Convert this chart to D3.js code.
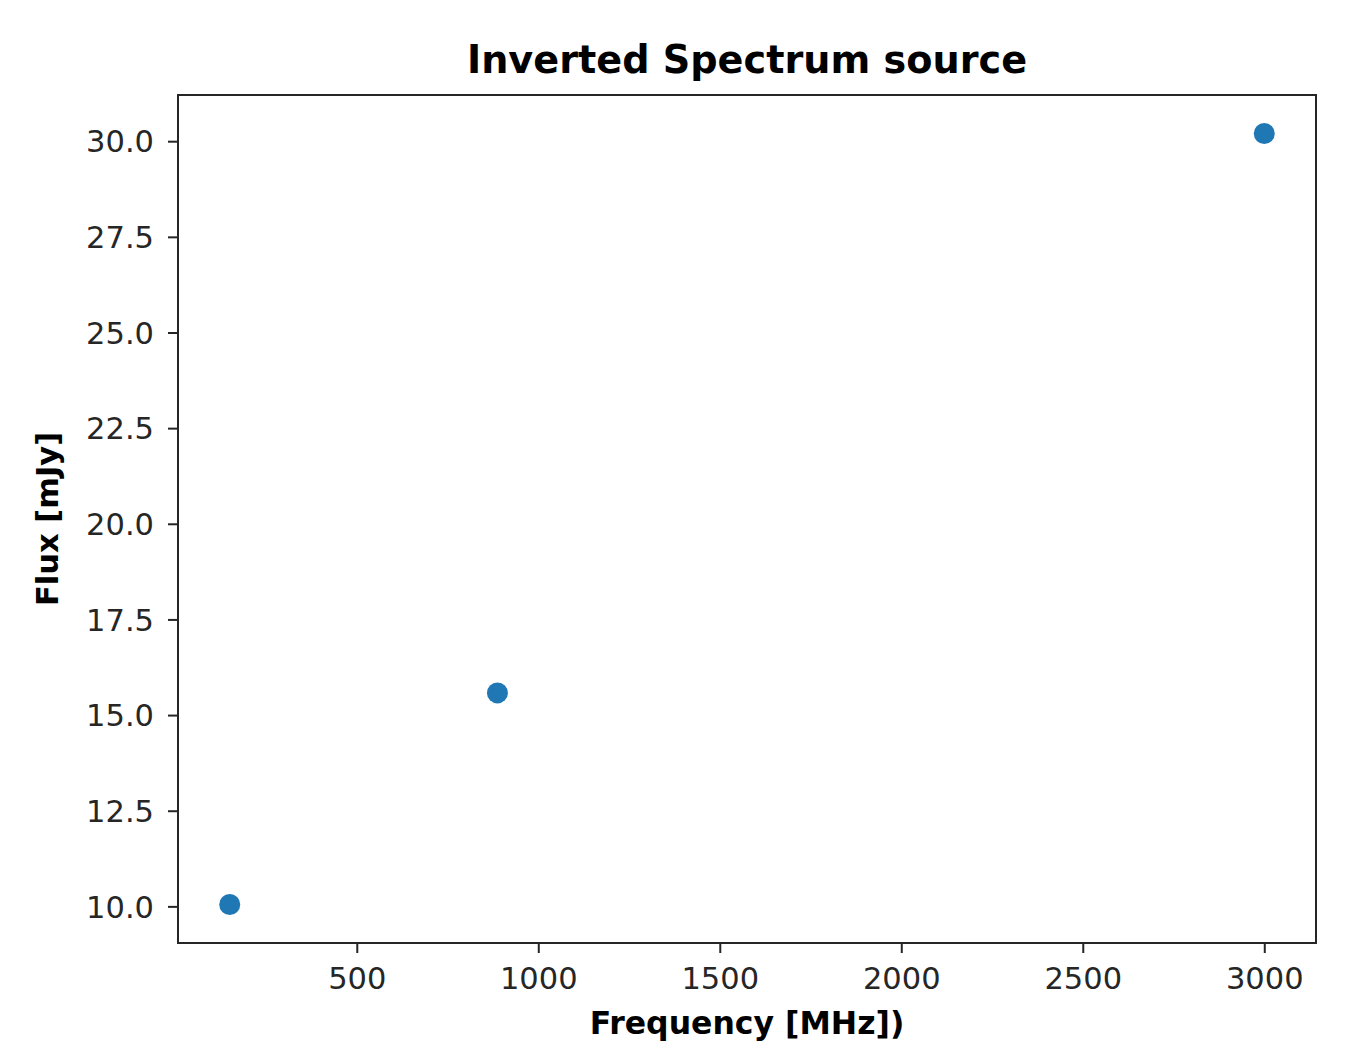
<!DOCTYPE html>
<html>
<head>
<meta charset="utf-8">
<script src="https://cdn.jsdelivr.net/npm/d3@7/dist/d3.min.js"></script>
<style>
  html, body { margin: 0; padding: 0; background: #fff; }
  svg { display: block; font-family: "DejaVu Sans", sans-serif; }
</style>
</head>
<body>
<svg id="chart" width="1360" height="1043"></svg>
<script>
const frequencies = [150, 887.5, 3000];
const fluxes = [10.05, 15.58, 30.2];
const xTicks = [500, 1000, 1500, 2000, 2500, 3000];
const yTicks = [10.0, 12.5, 15.0, 17.5, 20.0, 22.5, 25.0, 27.5, 30.0];
const titleText = "Inverted Spectrum source";
const xLabelText = "Frequency [MHz])";
const yLabelText = "Flux [mJy]";

(function () {
const svg = d3.select("#chart");
const mLeft = 178, mRight = 1316, mTop = 95, mBottom = 943;

function padded(vals) {
  const [a, b] = d3.extent(vals);
  const m = (b - a) * 0.05;
  return [a - m, b + m];
}

const x = d3.scaleLinear().domain(padded(frequencies)).range([mLeft, mRight]);
const y = d3.scaleLinear().domain(padded(fluxes)).range([mBottom, mTop]);

const textColor = "#262626";

// points
svg.append("g").selectAll("circle")
  .data(frequencies.map((f, i) => ({ f, v: fluxes[i] })))
  .join("circle")
  .attr("cx", d => x(d.f))
  .attr("cy", d => y(d.v))
  .attr("r", 10.5)
  .attr("fill", "#1f77b4");

// axes
const xAxis = svg.append("g")
  .attr("transform", `translate(0,${mBottom})`)
  .call(d3.axisBottom(x).tickValues(xTicks).tickFormat(d3.format("d")).tickSize(10).tickPadding(9).tickSizeOuter(0));
const yAxis = svg.append("g")
  .attr("transform", `translate(${mLeft},0)`)
  .call(d3.axisLeft(y).tickValues(yTicks).tickFormat(d3.format(".1f")).tickSize(10).tickPadding(14).tickSizeOuter(0));

[xAxis, yAxis].forEach(g => {
  g.select(".domain").remove();
  g.selectAll(".tick line").attr("stroke", textColor).attr("stroke-width", 2);
  g.selectAll(".tick text").attr("fill", textColor).style("font-size", "30.5px").style("font-family", "DejaVu Sans, sans-serif");
});
xAxis.selectAll(".tick text").attr("dy", "0.9em");
yAxis.selectAll(".tick text").attr("dy", "0.35em");

// frame
svg.append("rect")
  .attr("x", mLeft).attr("y", mTop)
  .attr("width", mRight - mLeft).attr("height", mBottom - mTop)
  .attr("fill", "none").attr("stroke", textColor).attr("stroke-width", 2);

// title
svg.append("text")
  .attr("x", (mLeft + mRight) / 2).attr("y", 73)
  .attr("text-anchor", "middle")
  .attr("fill", "#000")
  .style("font-size", "38.2px").style("font-weight", "bold")
  .text(titleText);

// x label
svg.append("text")
  .attr("x", (mLeft + mRight) / 2).attr("y", 1034)
  .attr("text-anchor", "middle")
  .attr("fill", "#000")
  .style("font-size", "31.5px").style("font-weight", "bold")
  .text(xLabelText);

// y label
svg.append("text")
  .attr("transform", `translate(58,${(mTop + mBottom) / 2}) rotate(-90)`)
  .attr("text-anchor", "middle")
  .attr("fill", "#000")
  .style("font-size", "30.5px").style("font-weight", "bold")
  .text(yLabelText);
})();
</script>
</body>
</html>
